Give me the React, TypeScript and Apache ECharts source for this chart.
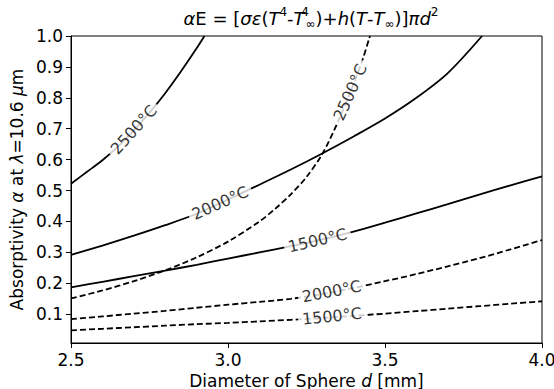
import React, { useEffect, useRef } from "react";
import * as echarts from "echarts";

const FONT = "DejaVu Sans";

// Diameter grid (mm)
const D_FULL = [2.5, 2.6, 2.7, 2.8, 2.9, 3.0, 3.1, 3.2, 3.3, 3.4, 3.5, 3.6, 3.7, 3.8, 3.9, 4.0];

// Solid curves
const D_S2500 = [2.5, 2.55, 2.6, 2.65, 2.7, 2.75, 2.8, 2.85, 2.9, 2.925];
const A_S2500 = [0.522, 0.56, 0.598, 0.643, 0.695, 0.752, 0.815, 0.885, 0.96, 1.0];

const D_S2000 = [2.5, 2.6, 2.7, 2.8, 2.9, 3.0, 3.1, 3.2, 3.3, 3.4, 3.5, 3.6, 3.7, 3.809];
const A_S2000 = [0.292, 0.322, 0.354, 0.388, 0.425, 0.471, 0.519, 0.568, 0.62, 0.675, 0.733, 0.8, 0.88, 1.0];

const A_S1500 = [0.187, 0.205, 0.223, 0.241, 0.26, 0.28, 0.3, 0.32, 0.342, 0.367, 0.396, 0.426, 0.456, 0.487, 0.517, 0.546];

// Dashed curves
const D_D2500 = [2.5, 2.6, 2.7, 2.8, 2.9, 3.0, 3.1, 3.15, 3.2, 3.25, 3.3, 3.35, 3.4, 3.43, 3.452];
const A_D2500 = [0.151, 0.177, 0.207, 0.242, 0.284, 0.335, 0.4, 0.441, 0.488, 0.544, 0.618, 0.722, 0.845, 0.928, 1.0];

const A_D2000 = [0.084, 0.093, 0.102, 0.111, 0.121, 0.131, 0.14, 0.15, 0.165, 0.185, 0.207, 0.23, 0.255, 0.281, 0.31, 0.34];
const A_D1500 = [0.048, 0.053, 0.058, 0.063, 0.068, 0.072, 0.077, 0.082, 0.088, 0.095, 0.102, 0.11, 0.118, 0.126, 0.134, 0.142];

// Inline contour labels: text, position (d, alpha), angle
const LABEL_TEXT = ["2500°C", "2000°C", "1500°C", "2500°C", "2000°C", "1500°C"];
const LABEL_D = [2.7, 2.975, 3.285, 3.389, 3.33, 3.331];
const LABEL_A = [0.697, 0.46, 0.339, 0.818, 0.174, 0.0935];
const LABEL_ROT = [48, 24, 13, 66, 11, 6];

const Y_TICKS = [0.1, 0.2, 0.3, 0.4, 0.5, 0.6, 0.7, 0.8, 0.9, 1.0];

const zip = (xs: number[], ys: number[]) => xs.map((x, i) => [x, ys[i]]);

export default function App() {
  const ref = useRef<HTMLDivElement>(null);
  useEffect(() => {
    if (!ref.current) return;
    const chart = echarts.init(ref.current, null, { renderer: "svg" });
    const lineBase = (data: number[][], dashed: boolean) => ({
      type: "line",
      data,
      showSymbol: false,
      symbol: "none",
      smooth: 0.3,
      z: 2,
      lineStyle: { color: "#000", width: 1.8, type: dashed ? [6, 3] : "solid" },
    });
    const math = { fontStyle: "italic", fontFamily: FONT, fontSize: 18, color: "#000" };
    const option: any = {
      animation: false,
      backgroundColor: "#fff",
      title: {
        text:
          "{i|α}E = [{i|σε}({i|T}{sup|4}-{i|T}{supz|4}{sub|∞})+{i|h}({i|T}-{i|T}{sub|∞})]{i|πd}{sup|2}",
        left: 306,
        top: 1,
        textAlign: "center",
        textStyle: {
          fontSize: 18,
          fontWeight: "normal",
          fontFamily: FONT,
          color: "#000",
          rich: {
            i: math,
            sup: { fontSize: 12, fontFamily: FONT, color: "#000", verticalAlign: "top", lineHeight: 24 },
            supz: { fontSize: 12, fontFamily: FONT, color: "#000", verticalAlign: "top", lineHeight: 24, width: 1 },
            sub: { fontSize: 12, fontFamily: FONT, color: "#000", verticalAlign: "bottom", lineHeight: 24 },
          },
        },
      },
      grid: {
        left: 71,
        right: 12,
        top: 36,
        bottom: 46,
        show: true,
        borderColor: "#000",
        borderWidth: 1,
        containLabel: false,
        outerBoundsMode: "none",
      },
      xAxis: {
        type: "value",
        min: 2.5,
        max: 4.0,
        interval: 0.5,
        axisLine: { show: true, lineStyle: { color: "#000", width: 1 } },
        axisTick: { show: true, inside: false, length: 5, lineStyle: { color: "#000", width: 1 } },
        axisLabel: {
          fontSize: 17,
          color: "#000",
          fontFamily: FONT,
          margin: 8,
          formatter: (v: number) => v.toFixed(1),
        },
        splitLine: { show: false },
        name: "Diameter of Sphere {i|d} [mm]",
        nameLocation: "middle",
        nameGap: 28,
        nameTextStyle: {
          fontSize: 17,
          color: "#000",
          fontFamily: FONT,
          rich: { i: { ...math, fontSize: 17 } },
        },
      },
      yAxis: {
        type: "value",
        min: 0.007,
        max: 1.0,
        axisLine: { show: true, lineStyle: { color: "#000", width: 1 } },
        axisTick: {
          show: true,
          inside: false,
          length: 5,
          customValues: Y_TICKS,
          lineStyle: { color: "#000", width: 1 },
        },
        axisLabel: {
          fontSize: 17,
          color: "#000",
          fontFamily: FONT,
          margin: 8,
          customValues: Y_TICKS,
          formatter: (v: number) => v.toFixed(1),
        },
        splitLine: { show: false },
        name: "Absorptivity {i|α} at {i|λ}=10.6 {i|μ}m",
        nameLocation: "middle",
        nameGap: 42,
        nameTextStyle: {
          fontSize: 17,
          color: "#000",
          fontFamily: FONT,
          rich: { i: { ...math, fontSize: 17 } },
        },
      },
      series: [
        lineBase(zip(D_S2500, A_S2500), false),
        lineBase(zip(D_S2000, A_S2000), false),
        lineBase(zip(D_FULL, A_S1500), false),
        lineBase(zip(D_D2500, A_D2500), true),
        lineBase(zip(D_FULL, A_D2000), true),
        lineBase(zip(D_FULL, A_D1500), true),
        {
          type: "scatter",
          symbolSize: 0,
          z: 10,
          silent: true,
          data: LABEL_TEXT.map((t, i) => ({
            value: [LABEL_D[i], LABEL_A[i]],
            label: { formatter: t, rotate: LABEL_ROT[i] },
          })),
          label: {
            show: true,
            position: "inside",
            align: "center",
            verticalAlign: "middle",
            fontSize: 16,
            fontFamily: FONT,
            color: "#000",
            backgroundColor: "#fff",
            padding: [0, 4],
          },
        },
      ],
    };
    chart.setOption(option);
    return () => chart.dispose();
  }, []);
  return (
    <div
      ref={ref}
      style={{ position: "fixed", left: 0, top: 0, width: 554, height: 389 }}
    />
  );
}
